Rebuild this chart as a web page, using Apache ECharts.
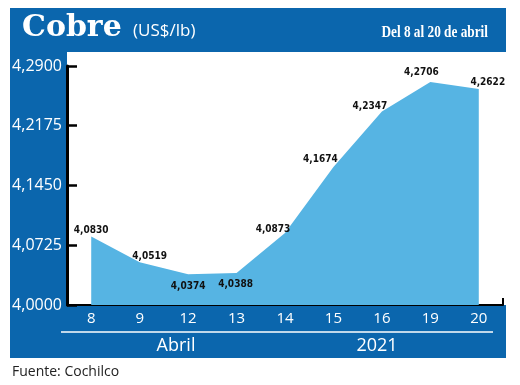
<!DOCTYPE html>
<html><head><meta charset="utf-8">
<script src="https://cdn.jsdelivr.net/npm/echarts@6/dist/echarts.min.js"></script>
<style>html,body{margin:0;padding:0;background:#fff}#c{width:520px;height:385px}</style>
</head><body><div id="c"></div>
<script>
const categories = ['8', '9', '12', '13', '14', '15', '16', '19', '20'];
const values = [4.0830, 4.0519, 4.0374, 4.0388, 4.0873, 4.1674, 4.2347, 4.2706, 4.2622];
const yTicks = [4.0000, 4.0725, 4.1450, 4.2175, 4.2900];
const groupLabels = ['Abril', '2021'];
const titleText = 'Cobre';
const unitText = '(US$/lb)';
const periodText = 'Del 8 al 20 de abril';
const sourceText = 'Fuente: Cochilco';

const BLUE = '#0b66ad';
const AREA = '#56b4e3';
const fmt = v => Number(v).toFixed(4).replace('.', ',');

// label nudges relative to 'top' placement
const nudges = [[0,4],[10,5],[0,23],[-1,22],[-12,7],[-13,3],[-12,5],[-9,1],[9,4]];

const chart = echarts.init(document.getElementById('c'), null, {renderer: 'canvas'});
chart.setOption({
  animation: false,
  backgroundColor: '#fff',
  graphic: [
    {type: 'rect', shape: {x: 10, y: 8, width: 496, height: 350}, style: {fill: BLUE}, z: -10},
    {type: 'rect', shape: {x: 67, y: 52, width: 439, height: 253}, style: {fill: '#fff'}, z: -9},
    {type: 'text', x: 22, y: 28, style: {text: titleText, fill: '#fff', font: 'bold 30px "DejaVu Serif"', verticalAlign: 'middle'}},
    {type: 'text', x: 133, y: 31, style: {text: unitText, fill: '#fff', font: '17px "Open Sans"', verticalAlign: 'middle'}},
    {type: 'text', x: 488, y: 33, scaleX: 0.83, style: {text: periodText, fill: '#fff', font: 'bold 16px "Liberation Serif"', align: 'right', verticalAlign: 'middle'}},
    {type: 'line', shape: {x1: 503, y1: 305, x2: 503, y2: 298}, style: {stroke: '#000', lineWidth: 2}},
    {type: 'line', shape: {x1: 61, y1: 332, x2: 493, y2: 332}, style: {stroke: '#fff', lineWidth: 1.5}},
    {type: 'text', x: 176, y: 346, style: {text: groupLabels[0], fill: '#fff', font: '18px "Open Sans"', align: 'center', verticalAlign: 'middle'}},
    {type: 'text', x: 377, y: 346, style: {text: groupLabels[1], fill: '#fff', font: '18px "Open Sans"', align: 'center', verticalAlign: 'middle'}},
    {type: 'text', x: 12, y: 372, style: {text: sourceText, fill: '#222', font: '14px "Open Sans"', verticalAlign: 'middle'}}
  ],
  grid: {left: 67, right: 17, top: 66, bottom: 80, containLabel: false},
  xAxis: {
    type: 'category', data: categories, boundaryGap: true,
    axisLine: {lineStyle: {color: '#000', width: 2}},
    axisTick: {show: false},
    axisLabel: {color: '#fff', fontSize: 15, fontFamily: 'Open Sans', margin: 6}
  },
  yAxis: {
    type: 'value', min: 4.0, max: 4.29,
    axisLine: {show: true, lineStyle: {color: '#000', width: 3}},
    axisTick: {show: true, inside: true, length: 10, lineStyle: {color: '#000', width: 2.5}, customValues: yTicks},
    axisLabel: {color: '#fff', fontSize: 16, fontFamily: 'Open Sans', margin: 5, padding: [4, 0, 0, 0], formatter: fmt, customValues: yTicks},
    splitLine: {show: false}
  },
  series: [{
    type: 'line',
    data: values.map((v, i) => ({value: v, label: {offset: nudges[i]}})),
    symbol: 'circle', symbolSize: 1, showSymbol: true,
    itemStyle: {color: 'rgba(0,0,0,0)'},
    lineStyle: {width: 0, color: AREA},
    areaStyle: {color: AREA, opacity: 1},
    label: {
      show: true, position: 'top', distance: 5,
      color: '#111', fontSize: 10, fontWeight: 'bold',
      fontFamily: '"Liberation Sans Narrow", "DejaVu Sans Condensed", "Liberation Sans", sans-serif',
      formatter: p => fmt(p.value)
    }
  }]
});
</script></body></html>
